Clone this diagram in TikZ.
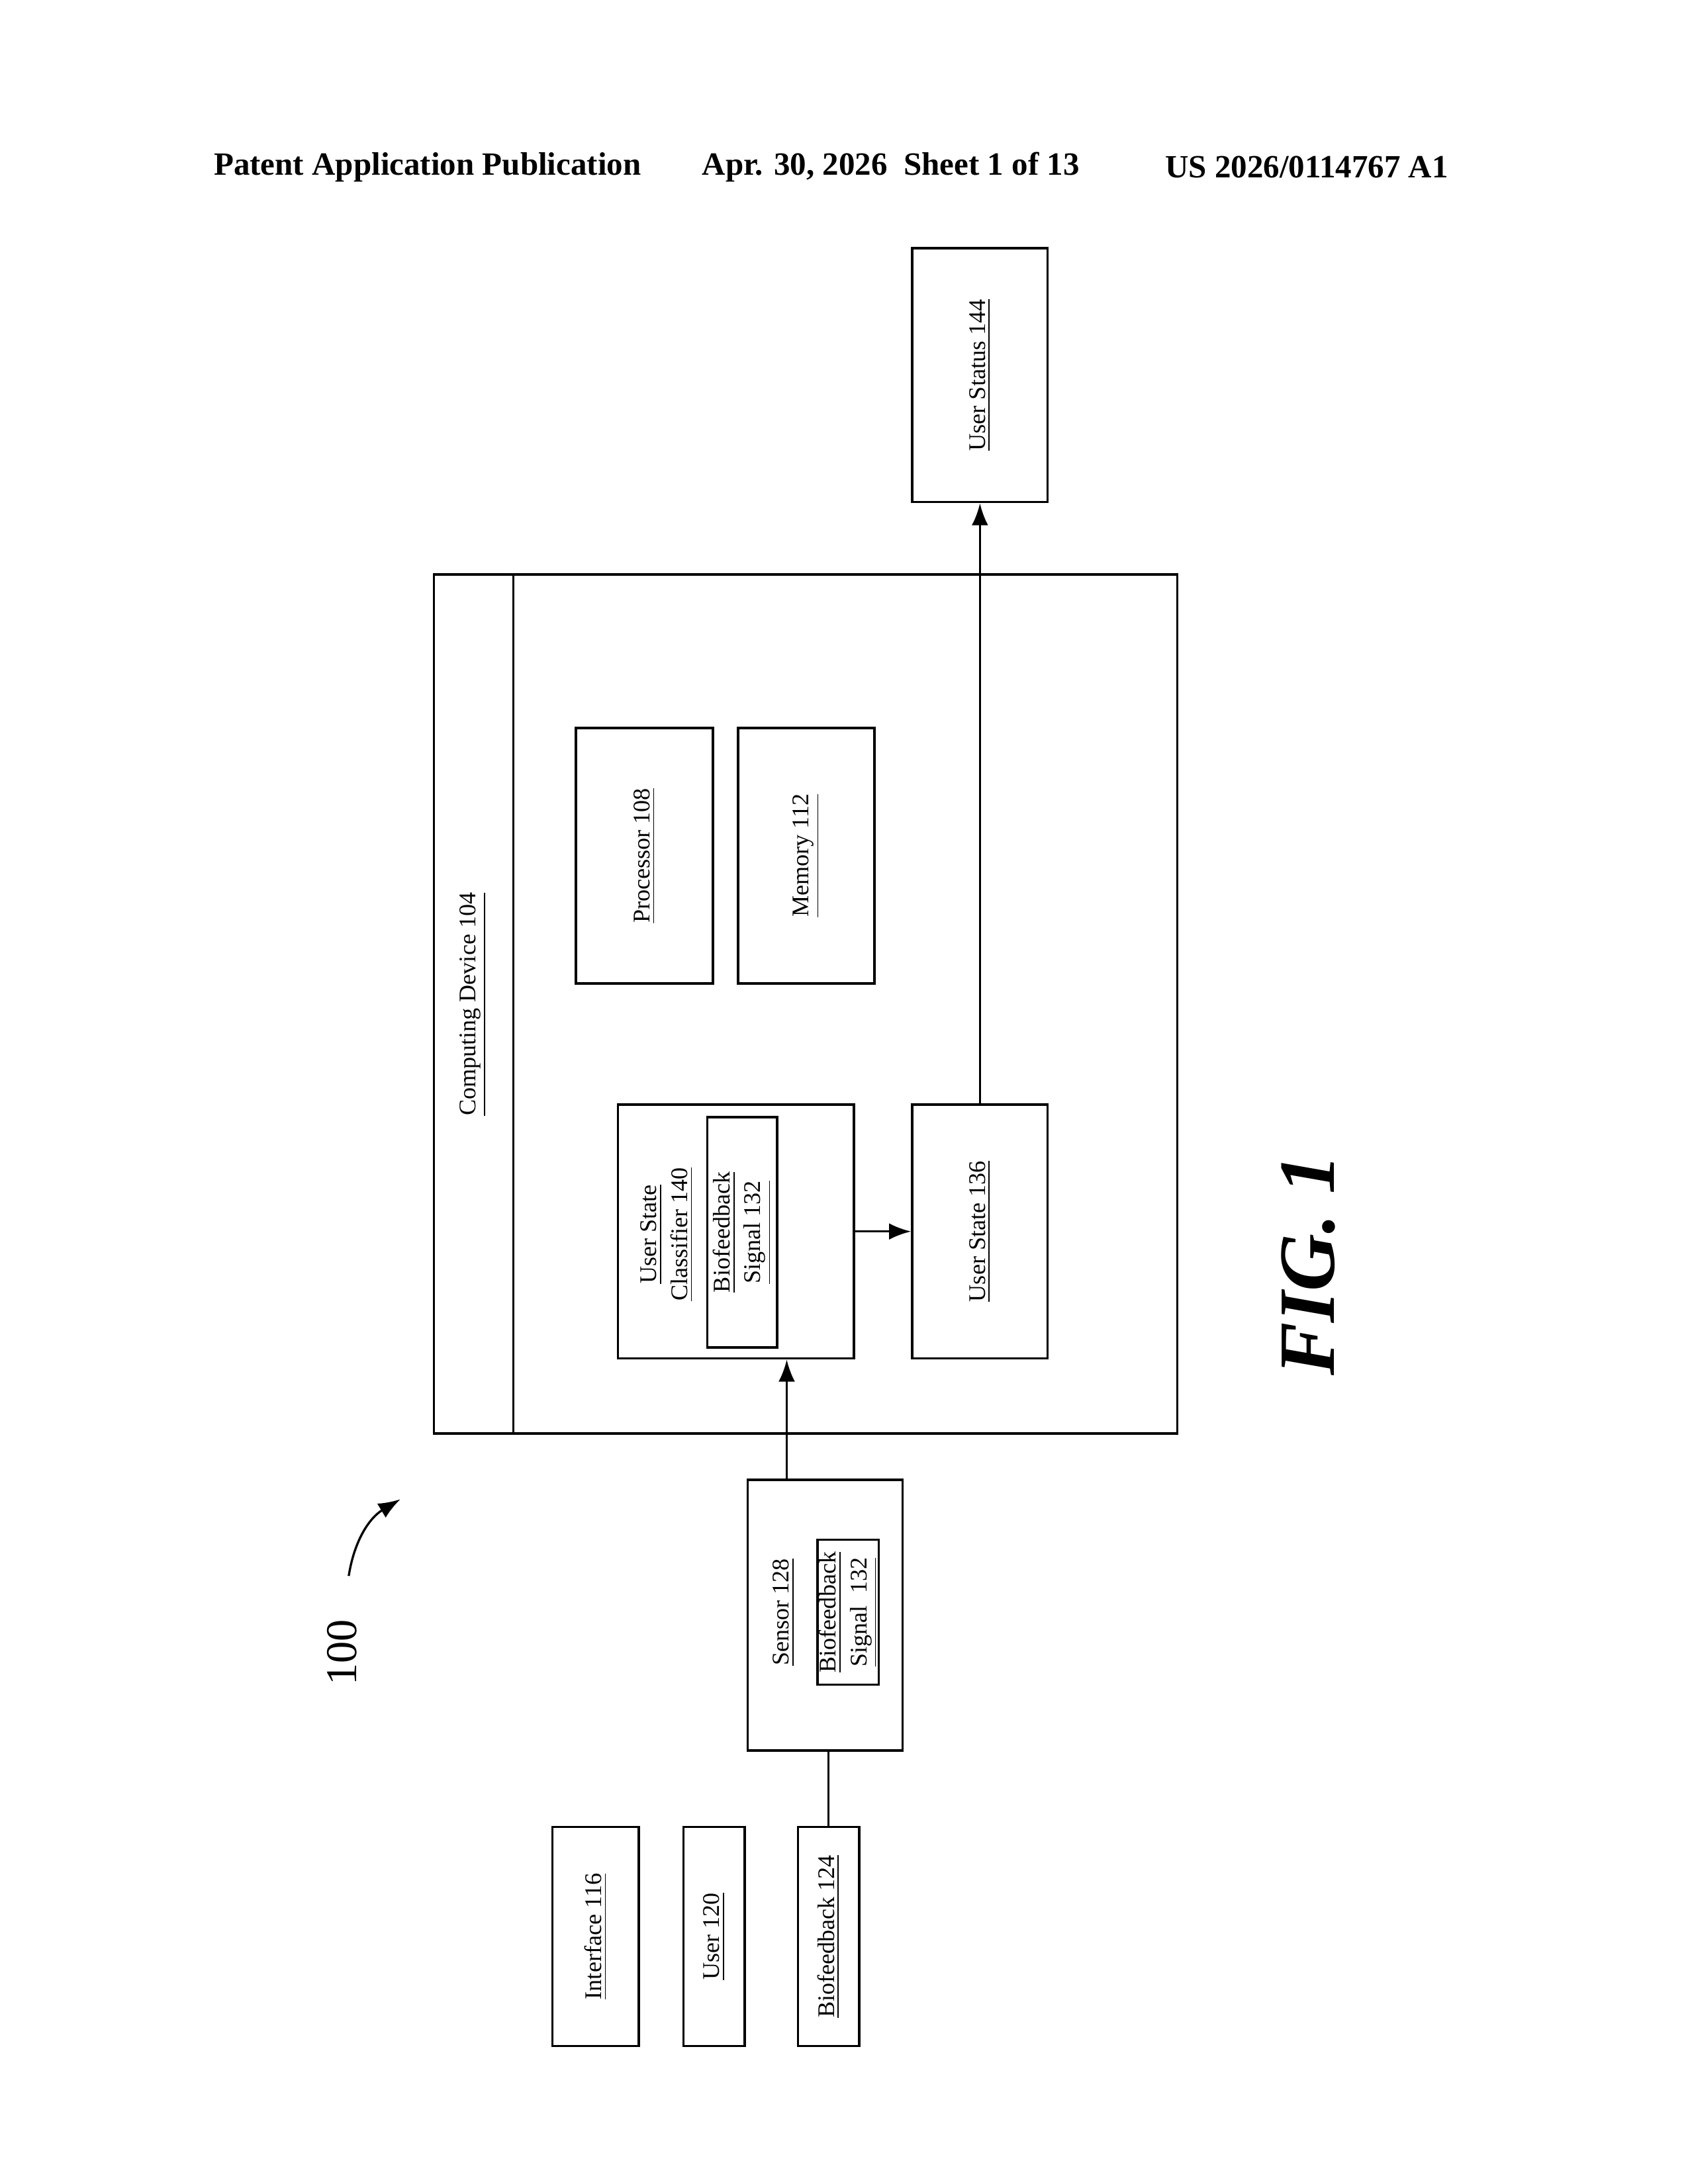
\documentclass[tikz,border=0pt]{standalone}
\usepackage{fontspec}
\setmainfont{Liberation Serif}
\usetikzlibrary{positioning,arrows.meta,fit}

\begin{document}
\begin{tikzpicture}[
    x=0.01784cm, y=-0.01784cm,
    box/.style={
        rectangle,
        draw=black,
        line width=0.9pt,
        inner sep=0pt
    },
    lbl/.style={font=\fontsize{8.7}{10.2}\selectfont, align=center, inner sep=0pt},
    arrow/.style={-{Latex[length=8pt,width=6pt]}, line width=0.8pt}
]
\useasboundingbox (0,0) rectangle (1210,1566);

% Header
\node[font=\fontsize{11.8}{13}\selectfont\bfseries, anchor=west, inner sep=0pt] (hdra) at (153,120) {Patent Application Publication};
\node[font=\fontsize{11.8}{13}\selectfont\bfseries, anchor=west, inner sep=0pt] (hdrb) at (503,120) {Apr. 30, 2026\ \ Sheet 1 of 13};
\node[font=\fontsize{11.8}{13}\selectfont\bfseries, anchor=west, inner sep=0pt] (hdrc) at (835,120) {US 2026/0114767 A1};

% Computing device
\node[box, fit={(311,412)(844,1028)}] (device) {};
\draw[line width=0.9pt] (368,412) -- (368,1028);
\node[lbl] (devlabel) at (339,720) {\rotatebox{90}{\underline{Computing Device 104}}};

\node[box, fit={(413,522)(511,705)}] (proc) {};
\node[lbl] at (proc.center) {\rotatebox{90}{\underline{Processor 108}}};
\node[box, fit={(529,522)(627,705)}] (mem) {};
\node[lbl] at (mem.center) {\rotatebox{90}{\underline{Memory 112}}};

\node[box, fit={(443,792)(612,974)}] (classifier) {};
\node[lbl] (clslabel) at (478,885) {\rotatebox{90}{\shortstack{\underline{User State}\\\underline{Classifier 140}}}};
\node[box, fit={(507,801)(557,966)}] (sigA) {};
\node[lbl] at (sigA.center) {\rotatebox{90}{\shortstack{\underline{Biofeedback}\\\underline{Signal 132}}}};

\node[box, fit={(654,792)(751,974)}] (state) {};
\node[lbl] at (state.center) {\rotatebox{90}{\underline{User State 136}}};
\node[box, fit={(654,178)(751,360)}] (status) {};
\node[lbl] at (status.center) {\rotatebox{90}{\underline{User Status 144}}};

% Sensor
\node[box, fit={(536,1061)(647,1255)}] (sensor) {};
\node[lbl] (senlabel) at (562,1156) {\rotatebox{90}{\underline{Sensor 128}}};
\node[box, fit={(586,1104)(630,1208)}] (sigB) {};
\node[lbl] at (sigB.center) {\rotatebox{90}{\shortstack{\underline{Biofeedback}\\\underline{Signal\ \ 132}}}};

% Bottom row
\node[box, fit={(396,1310)(458,1467)}] (iface) {};
\node[lbl] at (iface.center) {\rotatebox{90}{\underline{Interface 116}}};
\node[box, fit={(490,1310)(534,1467)}] (user) {};
\node[lbl] at (user.center) {\rotatebox{90}{\underline{User 120}}};
\node[box, fit={(572,1310)(616,1467)}] (bio) {};
\node[lbl] at (bio.center) {\rotatebox{90}{\underline{Biofeedback 124}}};

% Connectors
\draw[line width=0.8pt] (bio.north) -- (sensor.south -| bio.north);
\draw[arrow] (sensor.north -| 564,0) -- (classifier.south -| 564,0);
\draw[arrow] (classifier.east) -- (state.west);
\draw[arrow] (state.north) -- (status.south);

% Reference numeral and figure label
\node[font=\fontsize{16}{18}\selectfont] (ref) at (245,1185) {\rotatebox{90}{100}};
\coordinate (refend) at (287,1075);
\draw[arrow] (250,1130) to[bend left=25] (refend);
\node[font=\fontsize{29}{32}\selectfont\bfseries\itshape] (fig) at (938,907) {\rotatebox{90}{FIG. 1}};
\end{tikzpicture}
\end{document}
